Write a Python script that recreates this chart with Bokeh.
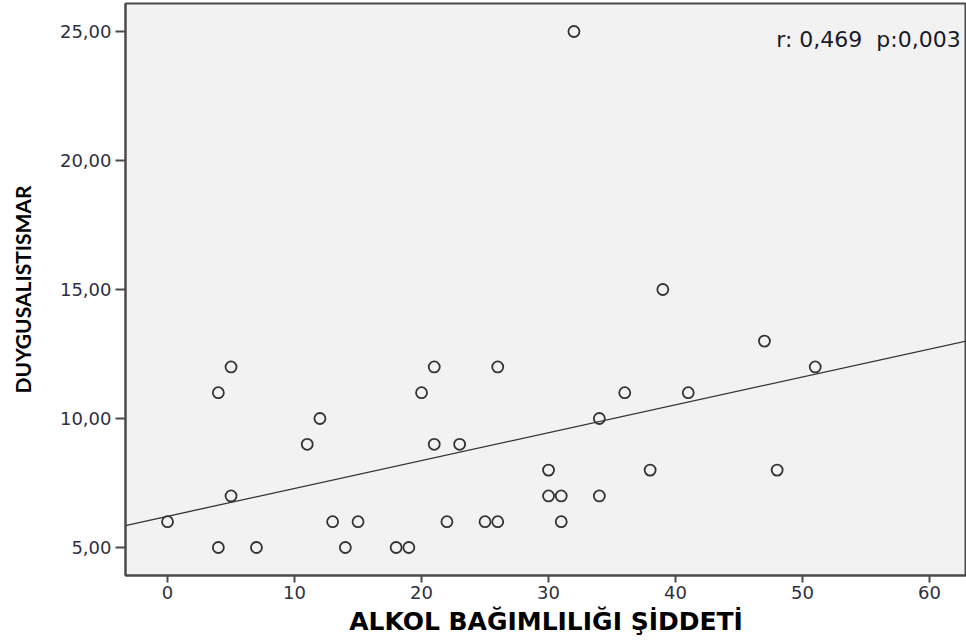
from bokeh.plotting import figure
from bokeh.models import Range1d, FixedTicker, Label
from bokeh.embed import file_html
from bokeh.resources import INLINE

# Alcohol dependence severity vs. emotional abuse scores
alkol = [0, 4, 4, 5, 5, 7, 11, 12, 13, 14, 15, 18, 19, 20, 21, 21, 22, 23,
         25, 26, 26, 30, 30, 31, 31, 32, 34, 34, 36, 38, 39, 41, 47, 48, 51]
duygusal = [6, 11, 5, 12, 7, 5, 9, 10, 6, 5, 6, 5, 5, 11, 12, 9, 6, 9,
            6, 6, 12, 8, 7, 7, 6, 25, 10, 7, 11, 8, 15, 11, 13, 8, 12]

# Linear fit line (intercept, slope)
fit_intercept = 6.21
fit_slope = 0.108

x_ticks = [0, 10, 20, 30, 40, 50, 60]
y_ticks = [5, 10, 15, 20, 25]
y_tick_labels = ["5,00", "10,00", "15,00", "20,00", "25,00"]

stat_text = "r: 0,469\u00a0\u00a0p:0,003"
x_title = "ALKOL BAĞIMLILIĞI ŞİDDETİ"
y_title = "DUYGUSALISTISMAR"

X0, X1 = -3.31, 62.91
Y0, Y1 = 3.915, 26.085

p = figure(width=966, height=642, output_backend="svg", toolbar_location=None,
           x_range=Range1d(X0, X1), y_range=Range1d(Y0, Y1),
           min_border_left=125, min_border_top=3, min_border_right=0,
           min_border_bottom=67)

p.background_fill_color = "#f2f2f2"
p.border_fill_color = "white"
p.outline_line_color = "#4a4a4a"
p.outline_line_width = 2
p.xgrid.visible = False
p.ygrid.visible = False

tick_font = "DejaVu Sans"
for ax in (p.xaxis[0], p.yaxis[0]):
    ax.axis_line_color = "#4a4a4a"
    ax.axis_line_width = 2
    ax.major_tick_line_color = "#4a4a4a"
    ax.major_tick_line_width = 2
    ax.major_tick_in = 0
    ax.minor_tick_line_color = None
    ax.major_label_text_font = tick_font
    ax.major_label_text_font_size = "18px"
    ax.major_label_text_color = "#2f2f3f"

p.xaxis.ticker = FixedTicker(ticks=x_ticks)
p.xaxis.major_tick_out = 7
p.xaxis.major_label_standoff = 3
p.xaxis.axis_label = x_title
p.xaxis.axis_label_text_font = "DejaVu Sans"
p.xaxis.axis_label_text_font_style = "bold"
p.xaxis.axis_label_text_font_size = "25px"
p.xaxis.axis_label_text_color = "black"
p.xaxis.axis_label_standoff = 5

p.yaxis.ticker = FixedTicker(ticks=y_ticks)
p.yaxis.major_label_overrides = {t: s for t, s in zip(y_ticks, y_tick_labels)}
p.yaxis.major_tick_out = 10
p.yaxis.major_label_standoff = 4
p.yaxis.axis_label = y_title
p.yaxis.axis_label_text_font = "Lato"
p.yaxis.axis_label_text_font_style = "bold"
p.yaxis.axis_label_text_font_size = "21px"
p.yaxis.axis_label_text_color = "black"
p.yaxis.axis_label_standoff = 22

# regression line across the whole x range
p.line([X0, X1], [fit_intercept + fit_slope * X0, fit_intercept + fit_slope * X1],
       line_color="#333333", line_width=1.3)

p.scatter(alkol, duygusal, marker="circle", size=11, fill_color=None,
          line_color="#333333", line_width=1.8)

p.add_layout(Label(x=62.45, y=24.7, text=stat_text, text_align="right",
                   text_baseline="middle", text_font="DejaVu Sans",
                   text_font_size="22px", text_color="#1a1a2a"))

open("out.html", "w").write(file_html(p, INLINE))
